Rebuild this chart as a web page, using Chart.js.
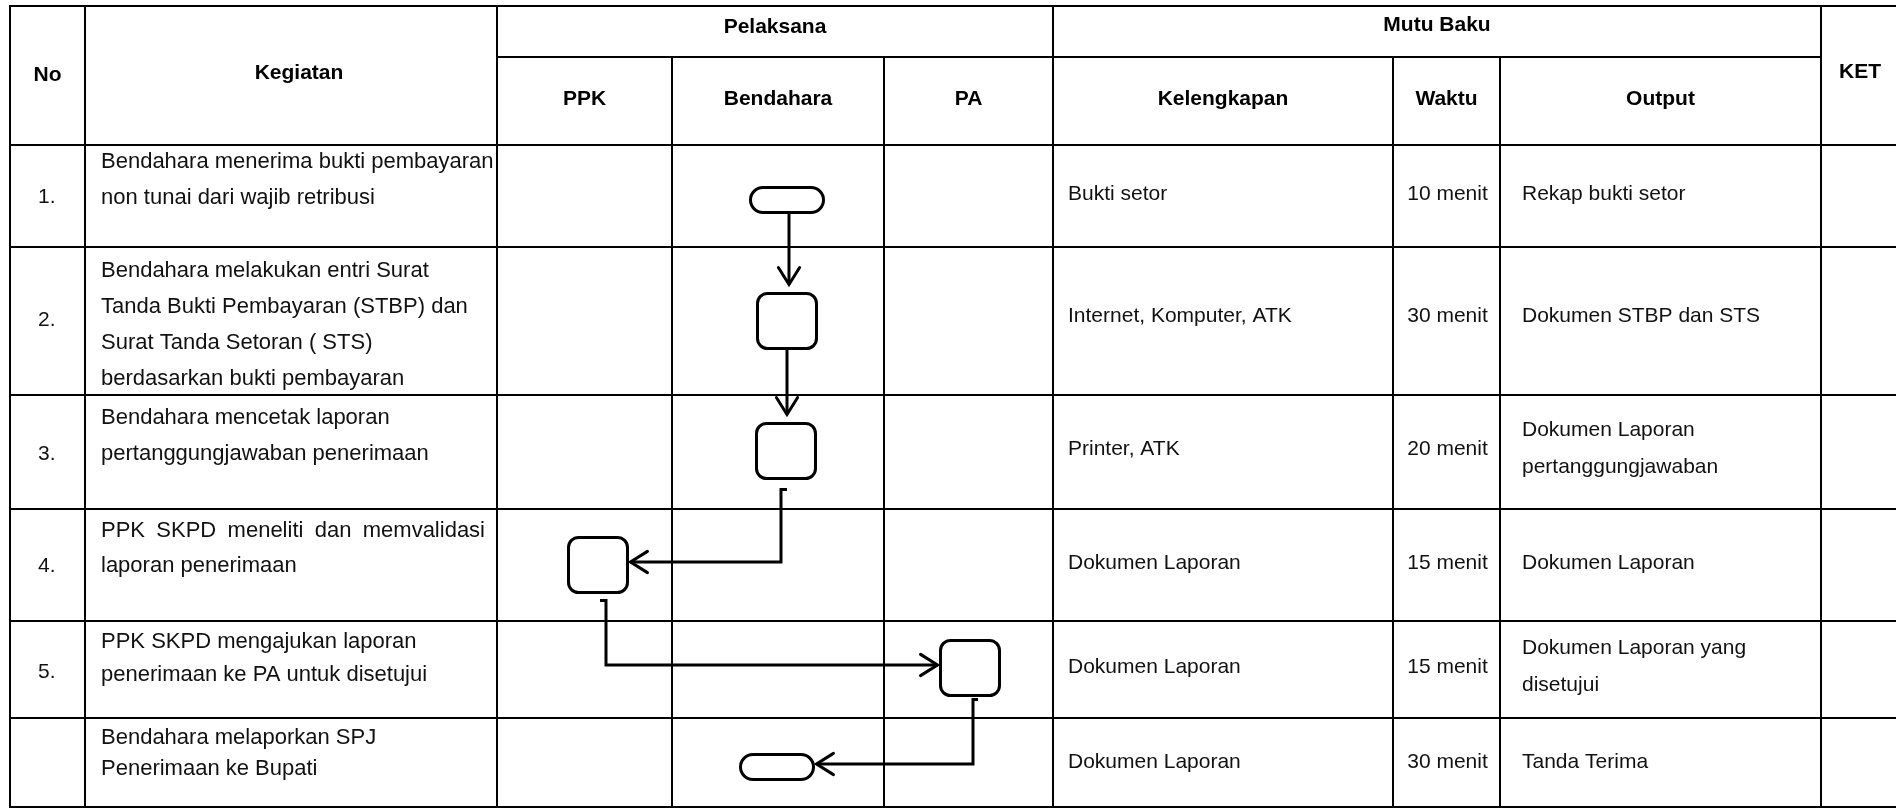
<!DOCTYPE html>
<html>
<head>
<meta charset="utf-8">
<title>SOP Penerimaan Retribusi</title>
<script src="https://cdn.jsdelivr.net/npm/chart.js@4.4.1/dist/chart.umd.min.js"></script>
<style>
  html, body { margin: 0; padding: 0; background: #fff; }
  #wrap { width: 1896px; height: 810px; }
</style>
</head>
<body>
<div id="wrap"><canvas id="sop" width="1896" height="810"></canvas></div>
<script>
// ---- table content ----
const groupHeaders = ["Pelaksana", "Mutu Baku"]
const laneNames = ["PPK", "Bendahara", "PA"]
const mutuNames = ["Kelengkapan", "Waktu", "Output"]
const stepNumbers = ["1.", "2.", "3.", "4.", "5.", ""]
const activities = [
  ["Bendahara menerima bukti pembayaran", "non tunai dari wajib retribusi"],
  ["Bendahara melakukan entri Surat", "Tanda Bukti Pembayaran (STBP) dan", "Surat Tanda Setoran ( STS)", "berdasarkan bukti pembayaran"],
  ["Bendahara mencetak laporan", "pertanggungjawaban penerimaan"],
  ["PPK SKPD meneliti dan memvalidasi", "laporan penerimaan"],
  ["PPK SKPD mengajukan laporan", "penerimaan ke PA untuk disetujui"],
  ["Bendahara melaporkan SPJ", "Penerimaan ke Bupati"]
]
const kelengkapan = ["Bukti setor", "Internet, Komputer, ATK", "Printer, ATK", "Dokumen Laporan", "Dokumen Laporan", "Dokumen Laporan"]
const waktuMenit = [10, 30, 20, 15, 15, 30]
const outputs = [
  ["Rekap bukti setor"],
  ["Dokumen STBP dan STS"],
  ["Dokumen Laporan", "pertanggungjawaban"],
  ["Dokumen Laporan"],
  ["Dokumen Laporan yang", "disetujui"],
  ["Tanda Terima"]
]

// ---- flow: which lane each step sits in, its shape, and the links ----
const stepLane = [1, 1, 1, 0, 2, 1]
const stepShape = ["terminator", "process", "process", "process", "process", "terminator"]
const flowLinks = [[0, 1], [1, 2], [2, 3], [3, 4], [4, 5]]

// ---- layout (value space of the hidden axes) ----
const colEdges = [10, 85, 497, 672, 884, 1053, 1393, 1500, 1821, 1900]
const headRows = [6, 57, 145]
const rowEdges = [145, 247, 395, 509, 621, 718, 807]
const firstLineY = [162, 271, 418, 531, 642, 738]
const lineStep = [36, 36, 36, 35, 33, 31]
const numberY = [197, 320, 454, 566, 672, ""]
const rowTextY = [194, 316, 449, 563, 667, 762]
const nodeX = [787, 787, 786, 598, 970, 777]
const nodeY = [200, 321, 451, 565, 668, 767]
const linkX = [789, 787, 781, 606, 973]
const linkHook = [0, 0, 6, -6, 5]
const linkGap = [0, 0, 11, 8, 4]
const arrowGap = [9, 9, 3, 3, 3]
const shapeSize = { terminator: [73, 25], process: [59, 55] }
const FONT = '"Liberation Sans", Arial, sans-serif'

function nodeBox(i) {
  const [w, h] = shapeSize[stepShape[i]]
  return { x0: nodeX[i] - w / 2, x1: nodeX[i] + w / 2, y0: nodeY[i] - h / 2, y1: nodeY[i] + h / 2 }
}

// connector polylines built from the step positions
const linkPaths = flowLinks.map(([a, b], k) => {
  const from = nodeBox(a), to = nodeBox(b)
  if (stepLane[a] === stepLane[b]) {
    return [{ x: linkX[k], y: from.y1 }, { x: linkX[k], y: to.y0 - arrowGap[k] }]
  }
  const startY = from.y1 + linkGap[k]
  const endY = nodeY[b] - 3
  const goesLeft = nodeX[b] < linkX[k]
  const endX = goesLeft ? to.x1 + arrowGap[k] : to.x0 - arrowGap[k]
  return [
    { x: linkX[k] + linkHook[k], y: startY },
    { x: linkX[k], y: startY },
    { x: linkX[k], y: endY },
    { x: endX, y: endY }
  ]
})

const sopPlugin = {
  id: "sopTable",
  beforeDatasetsDraw(chart) {
    const { ctx, scales: { x, y } } = chart
    const X = v => x.getPixelForValue(v), Y = v => y.getPixelForValue(v)
    ctx.save()
    ctx.strokeStyle = "#000"
    ctx.lineWidth = 2
    const hLine = (yy, a, b) => { ctx.beginPath(); ctx.moveTo(X(a), Y(yy)); ctx.lineTo(X(b), Y(yy)); ctx.stroke() }
    const vLine = (xx, a, b) => { ctx.beginPath(); ctx.moveTo(X(xx), Y(a)); ctx.lineTo(X(xx), Y(b)); ctx.stroke() }
    const last = colEdges.length - 1
    hLine(headRows[0], colEdges[0] - 1, colEdges[last])
    hLine(headRows[1], colEdges[2], colEdges[8])
    rowEdges.forEach(r => hLine(r, colEdges[0] - 1, colEdges[last]))
    colEdges.slice(0, last).forEach((c, i) => {
      const top = [3, 4, 6, 7].includes(i) ? headRows[1] : headRows[0]
      vLine(c, top - 1, rowEdges[rowEdges.length - 1] + 1)
    })
    ctx.restore()
  },
  afterDatasetsDraw(chart) {
    const { ctx, scales: { x, y } } = chart
    const X = v => x.getPixelForValue(v), Y = v => y.getPixelForValue(v)
    ctx.save()

    // header text
    ctx.fillStyle = "#000"
    ctx.textBaseline = "middle"
    ctx.textAlign = "center"
    ctx.font = "bold 21px " + FONT
    const mid = (a, b) => (a + b) / 2
    ctx.fillText("No", X(mid(colEdges[0], colEdges[1])), Y(75))
    ctx.fillText("Kegiatan", X(mid(colEdges[1], colEdges[2]) + 8), Y(73))
    ctx.fillText(groupHeaders[0], X(mid(colEdges[2], colEdges[5])), Y(27))
    ctx.fillText(groupHeaders[1], X(mid(colEdges[5], colEdges[8])), Y(25))
    laneNames.forEach((n, i) => ctx.fillText(n, X(mid(colEdges[2 + i], colEdges[3 + i])), Y(99)))
    mutuNames.forEach((n, i) => ctx.fillText(n, X(mid(colEdges[5 + i], colEdges[6 + i])), Y(99)))
    ctx.fillText("KET", X(1860), Y(72))

    // body text
    ctx.fillStyle = "#111"
    activities.forEach((lines, r) => {
      ctx.textAlign = "left"
      ctx.font = "21px " + FONT
      if (stepNumbers[r]) ctx.fillText(stepNumbers[r], X(38), Y(numberY[r]))
      ctx.font = "22px " + FONT
      lines.forEach((t, j) => {
        const ty = Y(firstLineY[r] + j * lineStep[r])
        if (r === 3 && j === 0) {
          // justified line, as in the source document
          const words = t.split(" ")
          const target = 384
          const plain = words.reduce((s, w) => s + ctx.measureText(w).width, 0)
          const gap = (target - plain) / (words.length - 1)
          let cx = X(101)
          words.forEach(w => { ctx.fillText(w, cx, ty); cx += ctx.measureText(w).width + gap })
        } else {
          ctx.fillText(t, X(101), ty)
        }
      })
      ctx.font = "21px " + FONT
      ctx.fillText(kelengkapan[r], X(1068), Y(rowTextY[r]))
      ctx.textAlign = "center"
      ctx.fillText(waktuMenit[r] + " menit", X(mid(colEdges[6], colEdges[7]) + 1), Y(rowTextY[r]))
      ctx.textAlign = "left"
      const out = outputs[r]
      const oStep = 37
      out.forEach((t, j) => {
        const oy = rowTextY[r] + (j - (out.length - 1) / 2) * oStep
        ctx.fillText(t, X(1522), Y(oy))
      })
    })

    // flow shapes
    ctx.strokeStyle = "#000"
    ctx.lineWidth = 3
    stepShape.forEach((s, i) => {
      const b = nodeBox(i)
      const r = s === "terminator" ? (b.y1 - b.y0) / 2 : 10
      ctx.beginPath()
      ctx.roundRect(X(b.x0), Y(b.y0), X(b.x1) - X(b.x0), Y(b.y1) - Y(b.y0), r)
      ctx.fillStyle = "#fff"
      ctx.fill()
      ctx.stroke()
    })

    // open arrow heads at the end of each connector
    ctx.lineWidth = 3
    ctx.lineCap = "round"
    linkPaths.forEach(p => {
      const a = p[p.length - 2], b = p[p.length - 1]
      const ang = Math.atan2(Y(b.y) - Y(a.y), X(b.x) - X(a.x))
      const len = 20, spread = 0.56
      const tx = X(b.x), ty = Y(b.y)
      ctx.beginPath()
      ctx.moveTo(tx - len * Math.cos(ang - spread), ty - len * Math.sin(ang - spread))
      ctx.lineTo(tx, ty)
      ctx.lineTo(tx - len * Math.cos(ang + spread), ty - len * Math.sin(ang + spread))
      ctx.stroke()
    })
    ctx.restore()
  }
}

new Chart(document.getElementById("sop"), {
  type: "scatter",
  data: {
    datasets: linkPaths.map((p, i) => ({
      label: "alur " + (i + 1),
      data: p,
      showLine: true,
      borderColor: "#000",
      borderWidth: 3,
      pointRadius: 0,
      tension: 0,
      fill: false
    }))
  },
  options: {
    responsive: false,
    animation: false,
    layout: { padding: 0 },
    plugins: { legend: { display: false }, tooltip: { enabled: false } },
    scales: {
      x: { type: "linear", min: 0, max: 1896, display: false },
      y: { type: "linear", min: 0, max: 810, reverse: true, display: false }
    }
  },
  plugins: [sopPlugin]
})
</script>
</body>
</html>
